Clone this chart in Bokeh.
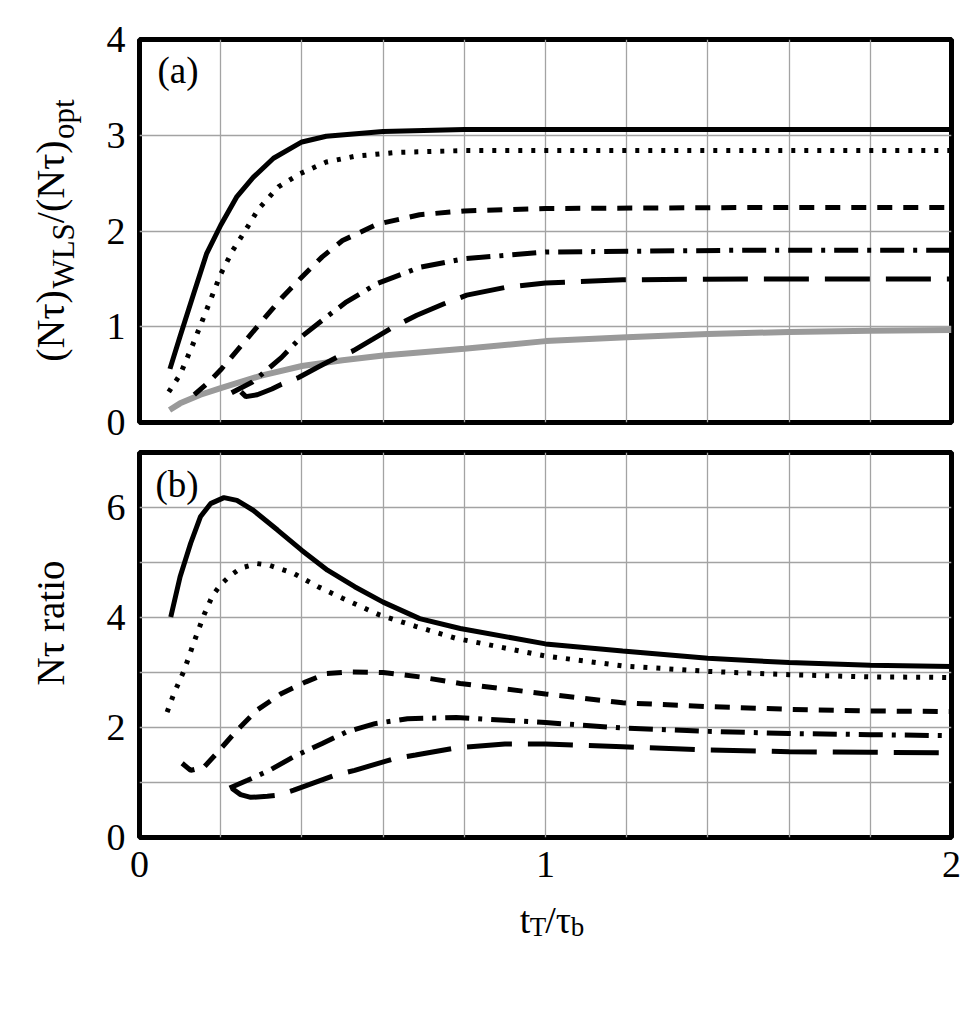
import math
from bokeh.plotting import figure
from bokeh.models import Range1d, FixedTicker, Label
from bokeh.layouts import column, row
from bokeh.embed import file_html
from bokeh.resources import INLINE

# ---------------- data: panel (a) ----------------
a_solid_t = [0.075, 0.1, 0.133, 0.165, 0.2, 0.24, 0.28, 0.33, 0.4, 0.46, 0.6, 0.8, 1.0, 1.5, 2.0]
a_solid_v = [0.56, 0.9, 1.34, 1.76, 2.06, 2.36, 2.56, 2.76, 2.93, 2.99, 3.04, 3.06, 3.06, 3.06, 3.06]

a_dot_t = [0.072, 0.1, 0.13, 0.16, 0.2, 0.23, 0.26, 0.293, 0.342, 0.396, 0.46, 0.53, 0.63, 0.8, 1.0, 1.5, 2.0]
a_dot_v = [0.32, 0.5, 0.8, 1.12, 1.55, 1.8, 2.0, 2.23, 2.46, 2.6, 2.72, 2.78, 2.82, 2.84, 2.84, 2.84, 2.84]

a_dash_t = [0.135, 0.17, 0.2, 0.25, 0.3, 0.35, 0.4, 0.45, 0.5, 0.585, 0.69, 0.8, 1.0, 1.5, 2.0]
a_dash_v = [0.29, 0.42, 0.55, 0.8, 1.05, 1.3, 1.52, 1.73, 1.9, 2.07, 2.17, 2.21, 2.235, 2.245, 2.245]

a_dashdot_t = [0.227, 0.277, 0.3, 0.35, 0.4, 0.46, 0.51, 0.585, 0.69, 0.8, 1.0, 1.5, 2.0]
a_dashdot_v = [0.31, 0.42, 0.5, 0.68, 0.9, 1.1, 1.26, 1.45, 1.62, 1.71, 1.78, 1.8, 1.8]

a_long_t = [0.25, 0.262, 0.29, 0.326, 0.35, 0.392, 0.44, 0.486, 0.527, 0.575, 0.618, 0.683, 0.75, 0.806, 0.9, 1.0, 1.19, 1.5, 2.0]
a_long_v = [0.32, 0.27, 0.29, 0.35, 0.4, 0.47, 0.58, 0.68, 0.75, 0.87, 0.98, 1.12, 1.24, 1.33, 1.41, 1.456, 1.49, 1.5, 1.5]

a_gray_t = [0.074, 0.1, 0.15, 0.2, 0.3, 0.4, 0.5, 0.6, 0.8, 1.0, 1.2, 1.4, 1.6, 1.8, 2.0]
a_gray_v = [0.13, 0.2, 0.29, 0.36, 0.49, 0.59, 0.65, 0.7, 0.77, 0.85, 0.89, 0.925, 0.945, 0.958, 0.965]

# ---------------- data: panel (b) ----------------
b_solid_t = [0.077, 0.1, 0.126, 0.15, 0.175, 0.208, 0.24, 0.28, 0.34, 0.4, 0.463, 0.53, 0.6, 0.69, 0.79, 1.0, 1.19, 1.4, 1.6, 1.8, 2.0]
b_solid_v = [4.01, 4.74, 5.35, 5.83, 6.07, 6.18, 6.13, 5.95, 5.59, 5.22, 4.86, 4.56, 4.28, 3.98, 3.8, 3.52, 3.39, 3.26, 3.18, 3.13, 3.11]

b_dot_t = [0.068, 0.085, 0.11, 0.134, 0.159, 0.18, 0.2, 0.225, 0.25, 0.29, 0.32, 0.38, 0.44, 0.5, 0.59, 0.68, 0.78, 1.0, 1.19, 1.4, 1.6, 1.8, 2.0]
b_dot_v = [2.28, 2.62, 3.04, 3.55, 4.05, 4.4, 4.6, 4.77, 4.9, 4.98, 4.95, 4.8, 4.56, 4.35, 4.05, 3.84, 3.62, 3.3, 3.12, 3.02, 2.96, 2.92, 2.91]

b_dash_t = [0.105, 0.126, 0.159, 0.19, 0.24, 0.29, 0.35, 0.41, 0.46, 0.52, 0.6, 0.69, 0.79, 1.0, 1.19, 1.4, 1.6, 1.8, 2.0]
b_dash_v = [1.35, 1.22, 1.28, 1.53, 1.95, 2.32, 2.62, 2.83, 2.98, 3.01, 3.0, 2.92, 2.8, 2.61, 2.45, 2.38, 2.33, 2.3, 2.29]

b_dashdot_t = [0.222, 0.266, 0.32, 0.38, 0.45, 0.51, 0.58, 0.66, 0.78, 1.0, 1.19, 1.4, 1.6, 1.8, 2.0]
b_dashdot_v = [0.9, 1.04, 1.22, 1.47, 1.71, 1.92, 2.07, 2.16, 2.18, 2.09, 1.99, 1.93, 1.89, 1.87, 1.85]

b_long_t = [0.228, 0.249, 0.274, 0.315, 0.34, 0.38, 0.48, 0.53, 0.63, 0.68, 0.78, 0.9, 1.0, 1.19, 1.4, 1.6, 1.8, 2.0]
b_long_v = [0.89, 0.78, 0.73, 0.75, 0.77, 0.86, 1.13, 1.22, 1.44, 1.5, 1.63, 1.7, 1.7, 1.65, 1.59, 1.56, 1.55, 1.54]

x_tick_labels = [0, 1, 2]
a_y_ticks = [0, 1, 2, 3, 4]
b_y_ticks = [0, 2, 4, 6]
x_grid = [0.2 * i for i in range(11)]
a_y_grid = [0, 1, 2, 3, 4]
b_y_grid = [0, 1, 2, 3, 4, 5, 6, 7]

# ---------------- layout / styling ----------------
FONT = "Liberation Serif"
LEFT_W = 100          # width of the left strip holding the y-axis titles
FRAME_W = 812
BORDER_L = 39
BORDER_R = 14
TOP_H, TOP_MT, TOP_MB = 383, 39, 24
BOT_H, BOT_MT, BOT_MB = 385, 6, 59
XLAB_H = 62
PANEL_W = BORDER_L + FRAME_W + BORDER_R
TOTAL_H = TOP_MT + TOP_H + TOP_MB + BOT_MT + BOT_H + BOT_MB + XLAB_H
GRID_COLOR = "#a3a3a3"
BASE_SHIFT = 8        # renderer places alphabetic baseline ~8px below anchor

STYLES = {
    "solid": dict(line_color="black", line_width=5),
    "dot": dict(line_color="black", line_width=5, line_dash="4 9"),
    "dash": dict(line_color="black", line_width=5, line_dash="15 11"),
    "dashdot": dict(line_color="black", line_width=5, line_dash="24 9 4 9"),
    "long": dict(line_color="black", line_width=5, line_dash="45 16"),
    "gray": dict(line_color="#9a9a9a", line_width=6),
}


def make_fig(ymax, frame_h, mb_top, mb_bottom, yticks, ygrid):
    p = figure(frame_width=FRAME_W, frame_height=frame_h,
               x_range=Range1d(0, 2), y_range=Range1d(0, ymax),
               output_backend="svg", toolbar_location=None,
               min_border_left=BORDER_L, min_border_right=BORDER_R,
               min_border_top=mb_top, min_border_bottom=mb_bottom)
    p.outline_line_color = "black"
    p.outline_line_width = 5
    p.outline_line_alpha = 1.0
    p.background_fill_color = "white"
    p.border_fill_color = "white"
    p.xgrid.ticker = FixedTicker(ticks=x_grid)
    p.ygrid.ticker = FixedTicker(ticks=ygrid)
    for g in (p.xgrid, p.ygrid):
        g.grid_line_color = GRID_COLOR
        g.grid_line_width = 1.3
    p.yaxis.ticker = FixedTicker(ticks=yticks)
    p.xaxis.ticker = FixedTicker(ticks=x_tick_labels)
    for ax in (p.xaxis, p.yaxis):
        ax.axis_line_color = None
        ax.major_tick_in = 0
        ax.major_tick_out = 0
        ax.minor_tick_in = 0
        ax.minor_tick_out = 0
        ax.major_label_text_font = FONT
        ax.major_label_text_font_size = "38px"
        ax.major_label_text_color = "black"
    p.yaxis.major_label_standoff = 14
    p.xaxis.major_label_standoff = 14
    return p


def text_fig(w, h, x0, y0):
    """Blank figure whose data coordinates equal page pixels (y downwards)."""
    f = figure(width=w, height=h, x_range=Range1d(x0, x0 + w),
               y_range=Range1d(y0 + h, y0), output_backend="svg",
               toolbar_location=None, x_axis_location=None,
               y_axis_location=None, min_border=0)
    f.outline_line_color = None
    f.grid.visible = False
    f.background_fill_color = "white"
    f.border_fill_color = "white"
    return f


p1 = make_fig(4, TOP_H, TOP_MT, TOP_MB, a_y_ticks, a_y_grid)
p1.xaxis.visible = False
p2 = make_fig(7, BOT_H, BOT_MT, BOT_MB, b_y_ticks, b_y_grid)

p1.line(a_gray_t, a_gray_v, **STYLES["gray"])
p1.line(a_solid_t, a_solid_v, **STYLES["solid"])
p1.line(a_dot_t, a_dot_v, **STYLES["dot"])
p1.line(a_dash_t, a_dash_v, **STYLES["dash"])
p1.line(a_dashdot_t, a_dashdot_v, **STYLES["dashdot"])
p1.line(a_long_t, a_long_v, **STYLES["long"])

p2.line(b_solid_t, b_solid_v, **STYLES["solid"])
p2.line(b_dot_t, b_dot_v, **STYLES["dot"])
p2.line(b_dash_t, b_dash_v, **STYLES["dash"])
p2.line(b_dashdot_t, b_dashdot_v, **STYLES["dashdot"])
p2.line(b_long_t, b_long_v, **STYLES["long"])

# ---------------- text helpers ----------------
X0_PX = LEFT_W + BORDER_L
PX_PER_X = FRAME_W / 2.0
A_Y0_PX = TOP_MT + TOP_H
A_PX_PER_Y = TOP_H / 4.0
B_Y0_PX = TOP_MT + TOP_H + TOP_MB + BOT_MT + BOT_H
B_PX_PER_Y = BOT_H / 7.0


def ax_(px):
    return (px - X0_PX) / PX_PER_X


def ay_a(py):
    return (A_Y0_PX - py) / A_PX_PER_Y


def ay_b(py):
    return (B_Y0_PX - py) / B_PX_PER_Y


def label(p, x, y, text, size, angle=0.0, align="left"):
    p.add_layout(Label(x=x, y=y, text=text, text_font=FONT,
                       text_font_size=f"{size}px", angle=angle,
                       text_align=align, text_baseline="alphabetic",
                       text_color="black"))


EM = {'(': 0.333, ')': 0.333, 'N': 0.722, 'τ': 0.44, '/': 0.278, 'W': 0.944,
      'L': 0.611, 'S': 0.556, 'o': 0.5, 'p': 0.5, 't': 0.278, 'T': 0.611, 'b': 0.5}


def width(s, size):
    return sum(EM.get(c, 0.5) for c in s) * size


# panel tags (inside frames)
label(p1, ax_(157), ay_a(78 - BASE_SHIFT), "(a)", 37)
label(p2, ax_(155), ay_b(492 - BASE_SHIFT), "(b)", 37)

# left strip with the y-axis titles (rotated: baseline shift acts along x)
left = text_fig(LEFT_W, TOTAL_H, 0, 0)
F, S = 40, 31
pieces = [("(Nτ)", F, 0), ("WLS", S, 1), ("/(Nτ)", F, 0), ("opt", S, 1)]
total = sum(width(t, s) for t, s, _ in pieces)
py = 230 + total / 2.0
for txt, size, sub in pieces:
    bx = 58 - BASE_SHIFT + (13 if sub else 0)
    label(left, bx, py, txt, size, angle=math.pi / 2)
    py -= width(txt, size)
label(left, 58 - BASE_SHIFT, 622.5, "Nτ ratio", 39, angle=math.pi / 2, align="center")

# strip below panel (b) with the x-axis title t_T/τ_b
XLAB_Y0 = TOTAL_H - XLAB_H
xlab = text_fig(PANEL_W, XLAB_H, LEFT_W, XLAB_Y0)
F2, S2 = 38, 27
xpieces = [("t", F2, 0), ("T", S2, 1), ("/τ", F2, 0), ("b", S2, 1)]
xtotal = sum(width(t, s) for t, s, _ in xpieces)
px = 539 - xtotal / 2.0
for txt, size, sub in xpieces:
    by = 927 - BASE_SHIFT + (7 if sub else 0)
    label(xlab, px, by, txt, size)
    px += width(txt, size)

layout = row(left, column(p1, p2, xlab))
open("out.html", "w").write(file_html(layout, INLINE))
